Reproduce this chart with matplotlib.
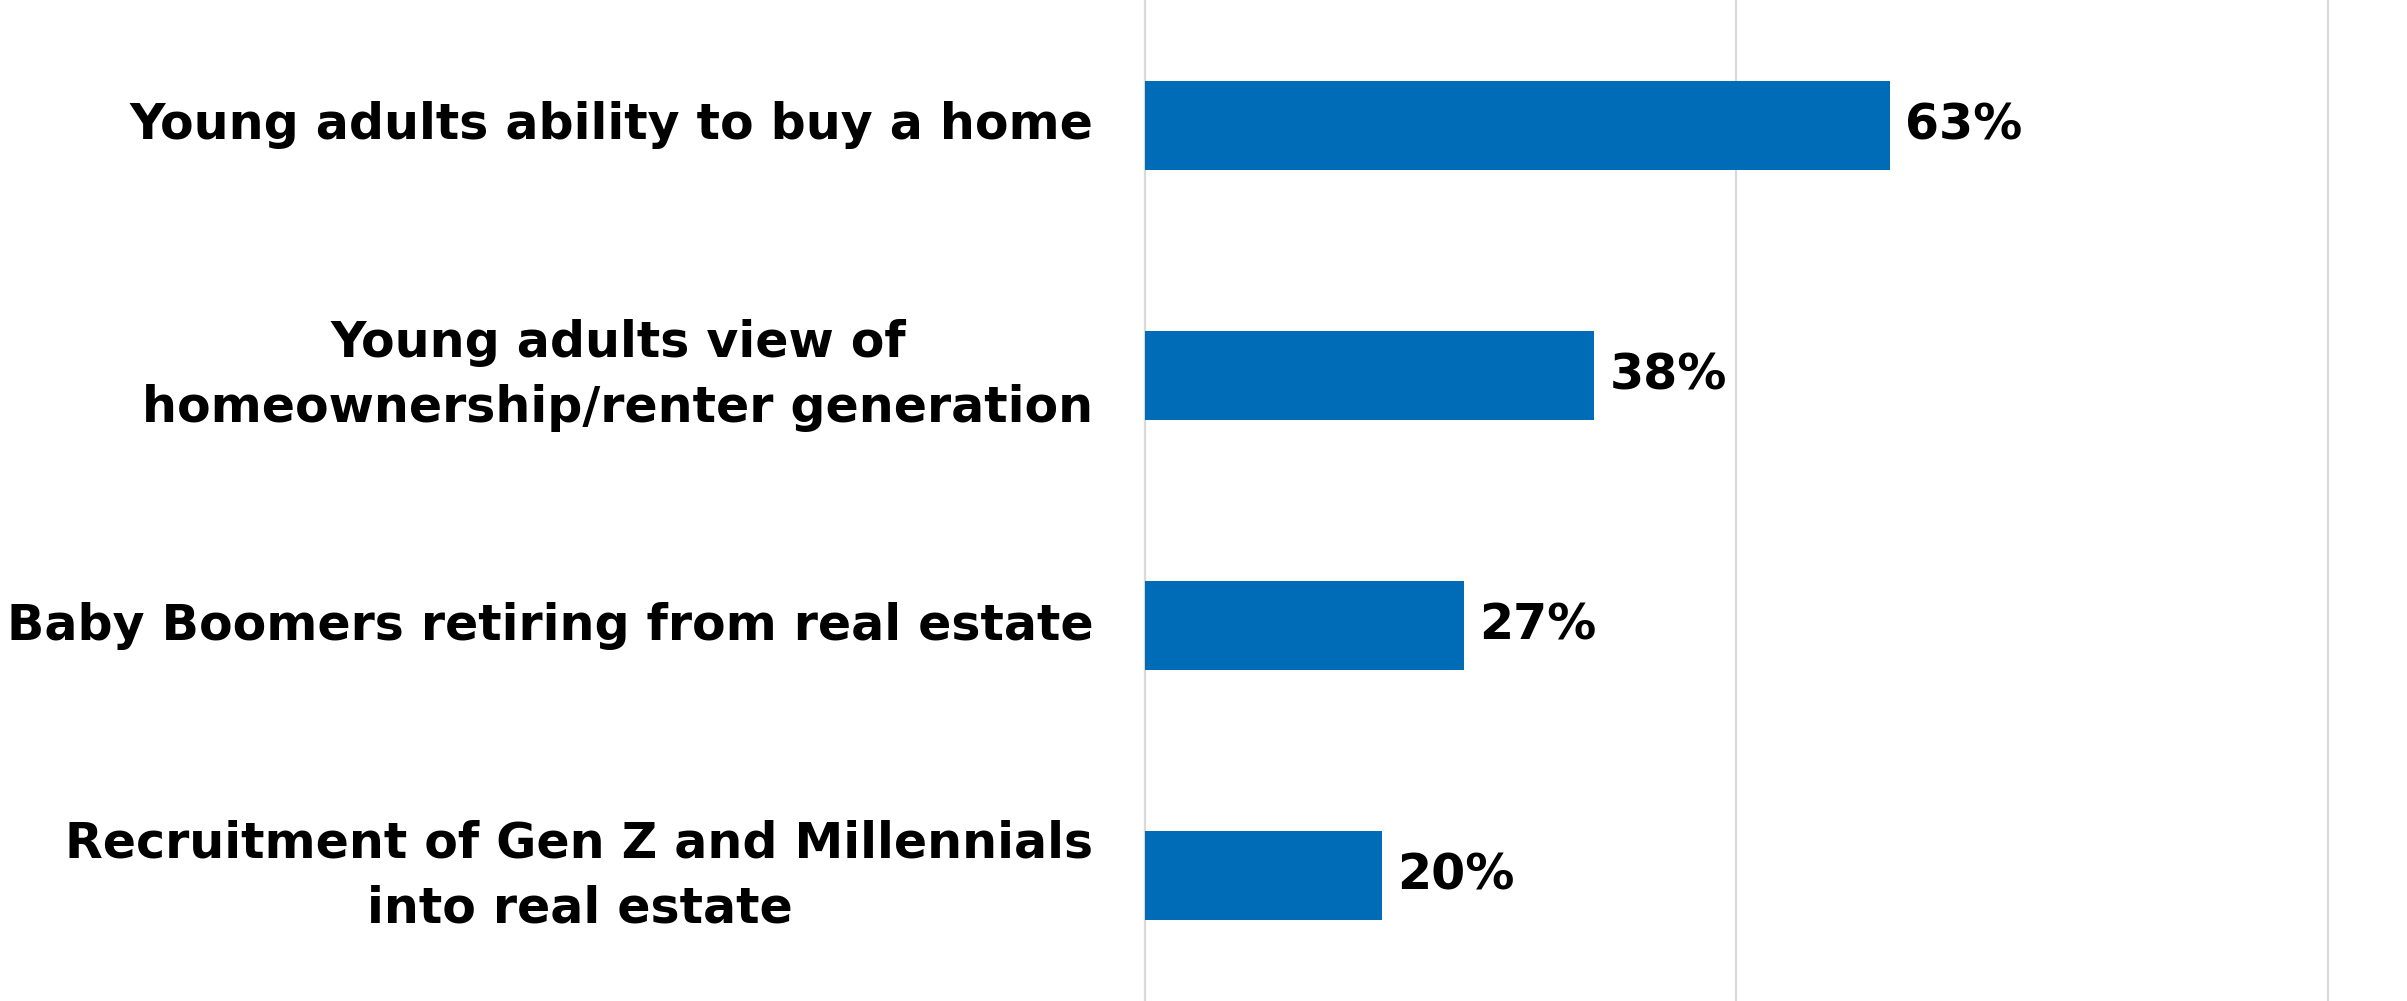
import matplotlib
matplotlib.use("Agg")
import matplotlib.pyplot as plt

categories = [
    "Young adults ability to buy a home",
    "Young adults view of\nhomeownership/renter generation",
    "Baby Boomers retiring from real estate",
    "Recruitment of Gen Z and Millennials\ninto real estate",
]
values = [63, 38, 27, 20]
value_labels = ["63%", "38%", "27%", "20%"]

BAR_COLOR = "#006CB7"
GRID_COLOR = "#D9D9D9"
FONT = "DejaVu Sans"
FS = 35.3

fig = plt.figure(figsize=(24.07, 10.01), dpi=100)
ax = fig.add_axes([1145 / 2407, 0.0, (2407 - 1145) / 2407, 1.0])

y = list(range(len(categories)))
ax.barh(y, values, height=0.356, color=BAR_COLOR, zorder=3)

ax.set_xlim(0, 106.7)
ax.set_ylim(len(categories) - 0.5, -0.5)
ax.set_xticks([0, 50, 100])
ax.xaxis.grid(True, color=GRID_COLOR, linewidth=1.6, zorder=0)
for gl in ax.get_xgridlines():
    gl.set_clip_on(False)
ax.tick_params(axis="x", length=0, labelbottom=False)
ax.tick_params(axis="y", length=0, pad=37)
ax.set_yticks(y)
ax.set_yticklabels(categories, fontsize=FS, fontweight="bold", family=FONT,
                   ha="right", va="center", multialignment="center",
                   linespacing=1.45)
for s in ax.spines.values():
    s.set_visible(False)

for yi, v, lab in zip(y, values, value_labels):
    ax.annotate(lab, (v, yi), xytext=(11, 0), textcoords="offset points",
                va="center", ha="left", fontsize=FS, fontweight="bold",
                family=FONT, color="black", zorder=4)

fig.savefig("out.png", dpi=100, facecolor="white")
